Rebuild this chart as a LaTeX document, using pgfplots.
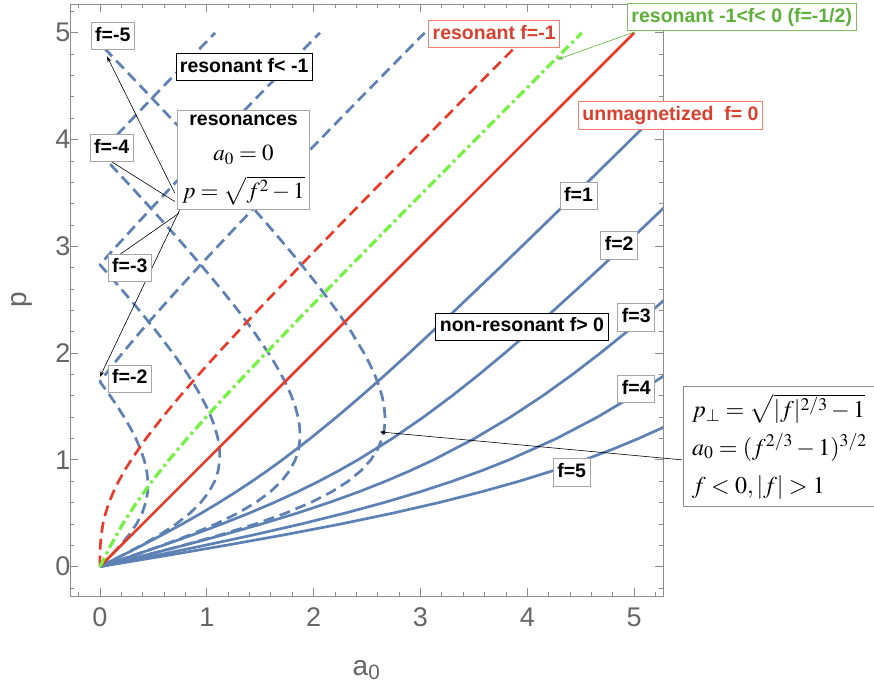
\documentclass[border=0pt]{standalone}
\usepackage{mathptmx}
\usepackage{fontspec}
\setmainfont{Liberation Sans}
\usepackage{pgfplots}
\pgfplotsset{compat=1.18}
\usetikzlibrary{arrows.meta}
\definecolor{mblue}{rgb}{0.368,0.507,0.71}
\definecolor{mred}{rgb}{0.93,0.22,0.15}
\definecolor{mgreen}{rgb}{0.45,0.95,0.25}
\definecolor{tgreen}{rgb}{0.36,0.69,0.22}
\definecolor{tred}{rgb}{0.86,0.25,0.18}
\definecolor{fgray}{rgb}{0.55,0.55,0.55}
\definecolor{tgray}{rgb}{0.4,0.4,0.4}
\definecolor{bgray}{rgb}{0.65,0.65,0.65}
\tikzset{
 lab/.style={draw=bgray, line width=0.9pt, fill=white, font=\fontsize{19.5}{23}\selectfont\bfseries, inner xsep=4pt, inner ysep=5.5pt, text height=13.5pt, text depth=3pt},
 arr/.style={black, line width=0.6pt, -{Stealth[length=6pt,width=4pt]}},
 bsol/.style={mblue, line width=2.7pt, line join=round},
 bdash/.style={mblue, line width=2.7pt, line join=round, dash pattern=on 11pt off 6pt},
}
\begin{document}
\begin{tikzpicture}
\path[use as bounding box] (-70pt,-87pt) rectangle (804pt,596pt);
\begin{axis}[
 at={(0,0)}, anchor=south west,
 scale only axis, width=593pt, height=592pt,
 xmin=-0.28, xmax=5.27, ymin=-0.275, ymax=5.27,
 axis line style={fgray, line width=0.9pt},
 xtick={0,1,2,3,4,5}, ytick={0,1,2,3,4,5},
 minor xtick={-0.2,0.2,0.4,0.6,0.8,1.2,1.4,1.6,1.8,2.2,2.4,2.6,2.8,3.2,3.4,3.6,3.8,4.2,4.4,4.6,4.8,5.2},
 minor ytick={-0.2,0.2,0.4,0.6,0.8,1.2,1.4,1.6,1.8,2.2,2.4,2.6,2.8,3.2,3.4,3.6,3.8,4.2,4.4,4.6,4.8,5.2},
 tick align=inside, tick pos=both,
 major tick length=8pt, minor tick length=4.5pt,
 tick style={fgray, line width=0.8pt},
 /pgf/number format/assume math mode=true,
 tick label style={font=\fontsize{27}{27}\selectfont, text=tgray},
 xticklabel style={yshift=-8pt},
 yticklabel style={xshift=4pt},
 xlabel={a\textsubscript{0}}, ylabel={p},
 xlabel style={at={(axis description cs:0.5,-0.125)}, anchor=center, font=\fontsize{28}{28}\selectfont, text=tgray},
 ylabel style={at={(axis description cs:-0.081,0.5)}, anchor=center, font=\fontsize{28}{28}\selectfont, text=tgray},
 clip mode=individual,
]
% f=-2
\addplot[bdash] coordinates {(0,0) (0.099008,0.1) (0.192232,0.2) (0.274698,0.3) (0.342782,0.4) (0.394428,0.5) (0.428992,0.6) (0.446924,0.7) (0.44939,0.8) (0.43793,0.9) (0.414214,1.0) (0.37988,1.1) (0.336442,1.2) (0.285248,1.3) (0.227466,1.4) (0.1641,1.5) (0.095996,1.6) (0.023868,1.7) (0,1.73205) (0.051686,1.8) (0.130164,1.9) (0.211146,2.0) (0.379268,2.2) (0.553846,2.4) (0.733308,2.6) (0.916516,2.8) (1.102634,3.0) (1.29104,3.2) (1.48126,3.4) (1.672964,3.6) (1.865868,3.8) (2.059714,4.0) (2.254388,4.2) (2.449736,4.4) (2.645632,4.6) (2.84208,4.8) (3.038838,5.0)};
% f=-3
\addplot[bdash] coordinates {(0,0) (0.198512,0.1) (0.388348,0.2) (0.562047,0.3) (0.714173,0.4) (0.841642,0.5) (0.943488,0.6) (1.020386,0.7) (1.074085,0.8) (1.106895,0.9) (1.121321,1.0) (1.11982,1.1) (1.104663,1.2) (1.077872,1.3) (1.041199,1.4) (0.99615,1.5) (0.943994,1.6) (0.885802,1.7) (0.822471,1.8) (0.754754,1.9) (0.683281,2.0) (0.531098,2.2) (0.369231,2.4) (0.200038,2.6) (0.113244,2.7) (0.025226,2.8) (0,2.828427) (0.063881,2.9) (0.153951,3.0) (0.33656,3.2) (0.52189,3.4) (0.709446,3.6) (0.898802,3.8) (1.089571,4.0) (1.281582,4.2) (1.474604,4.4) (1.668448,4.6) (1.86312,4.8) (2.058257,5.0)};
% f=-4
\addplot[bdash] coordinates {(0,0) (0.298016,0.1) (0.584464,0.2) (0.849396,0.3) (1.085564,0.4) (1.288856,0.5) (1.457984,0.6) (1.593848,0.7) (1.69878,0.8) (1.77586,0.9) (1.828428,1.0) (1.85976,1.1) (1.872884,1.2) (1.870496,1.3) (1.854932,1.4) (1.8282,1.5) (1.791992,1.6) (1.747736,1.7) (1.696628,1.8) (1.639672,1.9) (1.577708,2.0) (1.441464,2.2) (1.292308,2.4) (1.133384,2.6) (0.966968,2.8) (0.794732,3.0) (0.61792,3.2) (0.43748,3.4) (0.254072,3.6) (0.068264,3.8) (0,3.872983) (0.119428,4.0) (0.308776,4.2) (0.499472,4.4) (0.691264,4.6) (0.88416,4.8) (1.077676,5.0)};
% f=-5
\addplot[bdash] coordinates {(0,0) (0.39752,0.1) (0.78058,0.2) (1.136745,0.3) (1.456955,0.4) (1.73607,0.5) (1.97248,0.6) (2.16731,0.7) (2.323475,0.8) (2.444825,0.9) (2.535535,1.0) (2.5997,1.1) (2.641105,1.2) (2.66312,1.3) (2.668665,1.4) (2.66025,1.5) (2.63999,1.6) (2.60967,1.7) (2.570785,1.8) (2.52459,1.9) (2.472135,2.0) (2.35183,2.2) (2.215385,2.4) (2.06673,2.6) (1.90871,2.8) (1.743415,3.0) (1.5724,3.2) (1.39685,3.4) (1.21759,3.6) (1.03533,3.8) (0.850715,4.0) (0.66403,4.2) (0.47566,4.4) (0.28592,4.6) (0.0948,4.8) (0,4.898979) (0.097095,5.0)};
% f=1
\addplot[bsol] coordinates {(0,0) (0.1995,0.1) (0.3961,0.2) (0.5873,0.3) (0.7714,0.4) (0.9472,0.5) (1.1145,0.6) (1.2735,0.7) (1.4247,0.8) (1.5690,0.9) (1.7071,1.0) (1.9682,1.2) (2.2137,1.4) (2.4480,1.6) (2.6742,1.8) (2.8944,2.0) (3.3231,2.4) (3.7417,2.8) (4.1545,3.2) (4.5635,3.6) (4.9701,4.0) (5.3751,4.4)};
% f=2
\addplot[bsol] coordinates {(0,0) (0.2990,0.1) (0.5922,0.2) (0.8747,0.3) (1.1428,0.4) (1.3944,0.5) (1.6290,0.6) (1.8469,0.7) (2.0494,0.8) (2.2379,0.9) (2.4142,1.0) (2.7364,1.2) (3.0275,1.4) (3.2960,1.6) (3.5483,1.8) (3.7889,2.0) (4.0207,2.2) (4.2462,2.4) (4.4667,2.6) (4.6835,2.8) (4.8974,3.0) (5.1090,3.2) (5.3187,3.4)};
% f=3
\addplot[bsol] coordinates {(0,0) (0.3985,0.1) (0.7883,0.2) (1.1620,0.3) (1.5142,0.4) (1.8416,0.5) (2.1435,0.6) (2.4204,0.7) (2.6741,0.8) (2.9069,0.9) (3.1213,1.0) (3.5047,1.2) (3.8412,1.4) (4.1440,1.6) (4.4225,1.8) (4.6833,2.0) (4.9311,2.2) (5.1692,2.4) (5.4000,2.6)};
% f=4
\addplot[bsol] coordinates {(0,0) (0.4980,0.1) (0.9845,0.2) (1.4494,0.3) (1.8856,0.4) (2.2889,0.5) (2.6580,0.6) (2.9938,0.7) (3.2988,0.8) (3.5759,0.9) (3.8284,1.0) (4.2729,1.2) (4.6549,1.4) (4.9920,1.6) (5.2966,1.8) (5.5777,2.0)};
% f=5
\addplot[bsol] coordinates {(0,0) (0.5975,0.1) (1.1806,0.2) (1.7367,0.3) (2.2570,0.4) (2.7361,0.5) (3.1725,0.6) (3.5673,0.7) (3.9235,0.8) (4.2448,0.9) (4.5355,1.0) (4.7997,1.1) (5.0411,1.2) (5.2631,1.3) (5.4687,1.4)};
% f=0
\addplot[mred, line width=2.6pt] coordinates {(0,0) (5,5)};
% f=-1
\addplot[mred, line width=2.6pt, dash pattern=on 11pt off 6pt] coordinates {(0,0) (0.0000624,0.05) (0.000496,0.1) (0.003884,0.2) (0.012651,0.3) (0.028609,0.4) (0.052786,0.5) (0.085504,0.6) (0.126538,0.7) (0.175305,0.8) (0.231035,0.9) (0.292893,1.0) (0.431779,1.2) (0.586267,1.4) (0.752002,1.6) (0.925843,1.8) (1.105573,2.0) (1.476923,2.4) (1.858258,2.8) (2.245520,3.2) (2.636482,3.6) (3.029857,4.0) (3.424868,4.4) (3.821040,4.8) (4.019419,5.0)};
% f=-1/2
\addplot[mgreen, line width=3.2pt, dash pattern=on 10pt off 4pt on 3pt off 4pt] coordinates {(0,0) (0.101942,0.2) (0.214304,0.4) (0.342752,0.6) (0.487652,0.8) (0.646447,1.0) (0.815889,1.2) (0.993133,1.4) (1.176001,1.6) (1.362921,1.8) (1.552786,2.0) (1.938461,2.4) (2.329129,2.8) (2.72276,3.2) (3.118241,3.6) (3.514928,4.0) (3.912434,4.4) (4.31052,4.8) (4.50971,5.0)};
% arrows
\draw[arr] (axis cs:0.70,3.50) -- (axis cs:0.066,4.78);
\draw[black, line width=0.6pt] (axis cs:0.70,3.42) -- (axis cs:0.05,3.83);
\draw[black, line width=0.6pt] (axis cs:0.74,3.31) -- (axis cs:0.08,2.85);
\draw[arr] (axis cs:0.76,3.37) -- (axis cs:0,1.777);
\draw[arr] (axis cs:5.45,1.0) -- (axis cs:2.62,1.262);
\draw[tgreen, line width=0.6pt, -{Stealth[length=6pt,width=4pt]}] (axis cs:5.01,5.01) -- (axis cs:4.28,4.75);
% labels
\node[lab] at (axis cs:0.12,4.97) {f=-5};
\node[lab] at (axis cs:0.11,3.92) {f=-4};
\node[lab] at (axis cs:0.28,2.80) {f=-3};
\node[lab] at (axis cs:0.28,1.76) {f=-2};
\node[lab, draw=black] at (axis cs:1.35,4.68) {resonant f< -1};
\node[draw=bgray, line width=0.9pt, fill=white, align=center, inner xsep=5pt, inner ysep=5pt, font=\fontsize{23}{32}\selectfont] at (axis cs:1.344,3.81) {{\fontsize{19.5}{23}\selectfont\bfseries resonances}\\[3pt] $a_0=0$\\[6pt] $p=\sqrt{f^2-1}$};
\node[lab, draw=mred!65, text=tred] at (axis cs:3.69,4.99) {resonant f=-1};
\node[lab, draw=tgreen!80, text=tgreen] at (axis cs:6.007,5.147) {resonant -1<f< 0 (f=-1/2)};
\node[lab, draw=mred!65, text=tred] at (axis cs:5.34,4.224) {unmagnetized\ \ f= 0};
\node[lab, draw=black] at (axis cs:3.95,2.247) {non-resonant f> 0};
\node[lab] at (axis cs:4.48,3.47) {f=1};
\node[lab] at (axis cs:4.86,3.01) {f=2};
\node[lab] at (axis cs:5.02,2.335) {f=3};
\node[lab] at (axis cs:5.02,1.665) {f=4};
\node[lab] at (axis cs:4.415,0.883) {f=5};
\node[draw=fgray, line width=0.9pt, fill=white, align=left, inner xsep=9pt, inner ysep=7pt, font=\fontsize{24}{38}\selectfont] at (axis cs:6.36,1.127) {$p_\perp=\sqrt{|f|^{2/3}-1}$\\ $a_0=(f^{2/3}-1)^{3/2}$\\ $f<0,|f|>1$};
\end{axis}
\end{tikzpicture}
\end{document}
